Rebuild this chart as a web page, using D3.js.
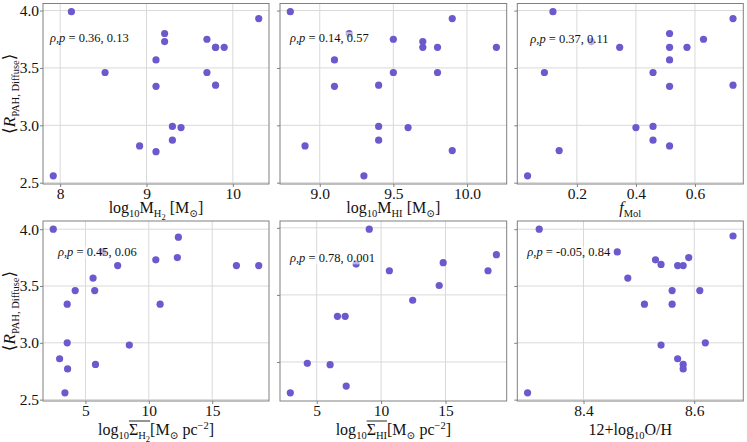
<!DOCTYPE html>
<html lang="en">
<head>
<meta charset="UTF-8">
<title>R_PAH vs gas properties</title>
<script src="https://cdn.jsdelivr.net/npm/d3@7"></script>
<style>
body { margin: 0; background: #fff; }
svg text { font-family: "Liberation Serif", "Times New Roman", Times, "DejaVu Serif", serif; fill: #111; }
</style>
</head>
<body>
<script type="text/javascript">

var w = 747;
var h = 442;
var serif = "'Liberation Serif', 'Times New Roman', Times, 'DejaVu Serif', serif";

// values, one x and one y array per panel
var mH2X = [7.92, 8.13, 8.52, 8.92, 9.11, 9.11, 9.11, 9.21, 9.21, 9.30, 9.40, 9.30, 9.70, 9.70, 9.80, 9.90, 9.80, 10.30, 9.80];
var mH2Y = [2.56, 3.99, 3.46, 2.82, 3.57, 3.34, 2.77, 3.80, 3.73, 2.99, 2.98, 2.87, 3.75, 3.46, 3.68, 3.68, 3.35, 3.93, 3.68];

var mHIX = [8.80, 8.90, 9.10, 9.10, 9.20, 9.30, 9.40, 9.40, 9.40, 9.50, 9.50, 9.60, 9.70, 9.70, 9.80, 9.80, 9.90, 9.90, 10.20];
var mHIY = [3.99, 2.82, 3.57, 3.34, 3.80, 2.56, 3.35, 2.99, 2.87, 3.75, 3.46, 2.98, 3.73, 3.68, 3.68, 3.46, 3.93, 2.78, 3.68];

var fMolX = [0.033, 0.090, 0.119, 0.140, 0.249, 0.345, 0.400, 0.458, 0.458, 0.458, 0.514, 0.514, 0.514, 0.514, 0.514, 0.573, 0.629, 0.729, 0.729];
var fMolY = [2.56, 3.46, 3.99, 2.78, 3.73, 3.68, 2.98, 3.46, 2.99, 2.87, 3.80, 3.68, 3.57, 3.34, 2.82, 3.68, 3.75, 3.93, 3.35];

var sH2X = [2.46, 2.96, 3.38, 3.56, 3.56, 3.59, 4.19, 5.60, 5.73, 5.79, 6.36, 7.54, 8.46, 10.55, 10.89, 12.25, 12.33, 16.91, 18.67];
var sH2Y = [4.00, 2.86, 2.56, 3.00, 3.34, 2.77, 3.46, 3.57, 3.46, 2.81, 3.80, 3.68, 2.98, 3.73, 3.34, 3.75, 3.93, 3.68, 3.68];

var sHIX = [2.95, 4.27, 6.04, 6.61, 7.21, 7.29, 8.06, 9.08, 10.64, 12.45, 14.51, 14.82, 18.30, 18.95];
var sHIY = [2.77, 2.99, 2.98, 3.34, 3.34, 2.82, 3.73, 3.99, 3.68, 3.46, 3.57, 3.74, 3.68, 3.80];

var ohX = [8.299, 8.320, 8.461, 8.480, 8.510, 8.530, 8.540, 8.540, 8.560, 8.560, 8.570, 8.570, 8.580, 8.580, 8.580, 8.590, 8.610, 8.620, 8.670];
var ohY = [2.56, 4.00, 3.80, 3.57, 3.34, 3.73, 3.69, 2.98, 3.46, 3.34, 3.68, 2.86, 3.68, 2.81, 2.77, 3.75, 3.46, 3.00, 3.94];

// spearman rho and p shown in each panel
var rhoVals = ["0.36", "0.14", "0.37", "0.45", "0.78", "-0.05"];
var pVals = ["0.13", "0.57", "0.11", "0.06", "0.001", "0.84"];

// tick values
var xTicks = [[8, 9, 10], [9.0, 9.5, 10.0], [0.2, 0.4, 0.6], [5, 10, 15], [5, 10, 15], [8.4, 8.6]];
var xTickFmt = [d3.format("d"), d3.format(".1f"), d3.format(".1f"), d3.format("d"), d3.format("d"), d3.format(".1f")];
var yTicks = [[2.5, 3.0, 3.5, 4.0], [2.5, 3.0, 3.5, 4.0], [2.5, 3.0, 3.5, 4.0],
              [2.5, 3.0, 3.5, 4.0], [3.0, 3.5, 4.0], [2.5, 3.0, 3.5, 4.0]];

// x labels as [text, level, style] pieces: level 0 normal, 1 sub, 2 sub of sub, -1 sup
// style "i" italic, "o" under the overline
var xLabels = [
    [["log", 0], ["10", 1], ["M", 0], ["H", 1], ["2", 2], [" [M", 0], ["\u2299", 1], ["]", 0]],
    [["log", 0], ["10", 1], ["M", 0], ["HI", 1], [" [M", 0], ["\u2299", 1], ["]", 0]],
    [["f", 0, "i"], ["Mol", 1]],
    [["log", 0], ["10", 1], ["\u03A3", 0, "o"], ["H", 1, "o"], ["2", 2, "o"], ["[M", 0], ["\u2299", 1], [" pc", 0], ["\u22122", -1], ["]", 0]],
    [["log", 0], ["10", 1], ["\u03A3", 0, "o"], ["HI", 1, "o"], ["[M", 0], ["\u2299", 1], [" pc", 0], ["\u22122", -1], ["]", 0]],
    [["12+log", 0], ["10", 1], ["O/H", 0]]
];

var panelX = [mH2X, mHIX, fMolX, sH2X, sHIX, ohX];
var panelY = [mH2Y, mHIY, fMolY, sH2Y, sHIY, ohY];

// layout
var cols = [{x0: 43, x1: 269}, {x0: 280, x1: 506.7}, {x0: 517.3, x1: 743.3}];
var rows = [{y0: 3.5, y1: 184}, {y0: 221, y1: 401}];
var notePos = [[7, 34], [10, 34], [13, 35], [15, 31], [10, 37], [10, 31]]; // left offset, centre from panel top

var dotColor = "#6a5acd";
var frameColor = "#808080";
var gridColor = "#d9d9d9";

var svg = d3.select("body")
    .append("svg")
    .attr("width", w)
    .attr("height", h);

function padDomain(arr) {
    var ext = d3.extent(arr);
    var m = (ext[1] - ext[0]) * 0.05;
    return [ext[0] - m, ext[1] + m];
}

var sizes = {0: 16, 1: 10.5, 2: 8.5, "-1": 10.5};
var shifts = {0: 0, 1: 4, 2: 6.5, "-1": -6};

// writes the pieces as tspans, returns [first, last] char index under the overline
function richText(sel, parts) {
    var cur = 0, pos = 0, over = null;
    parts.forEach(function(p) {
        var lvl = p[1];
        var t = sel.append("tspan")
            .attr("dy", shifts[lvl] - cur)
            .style("font-size", sizes[lvl] + "px")
            .text(p[0]);
        if (p[2] === "i") t.style("font-style", "italic");
        if (p[2] === "o") {
            if (!over) over = [pos, pos];
            over[1] = pos + p[0].length - 1;
        }
        cur = shifts[lvl];
        pos += p[0].length;
    });
    return over;
}

for (var k = 0; k < 6; k++) {
    var c = cols[k % 3];
    var r = rows[Math.floor(k / 3)];
    var xs = panelX[k], ys = panelY[k];

    var x = d3.scaleLinear().domain(padDomain(xs)).range([c.x0, c.x1]);
    var y = d3.scaleLinear().domain(padDomain(ys)).range([r.y1, r.y0]);

    var g = svg.append("g");

    // grid
    g.selectAll(".gx").data(xTicks[k]).enter().append("line")
        .attr("x1", function(d) { return x(d); })
        .attr("x2", function(d) { return x(d); })
        .attr("y1", r.y0).attr("y2", r.y1)
        .attr("stroke", gridColor).attr("stroke-width", 1);
    g.selectAll(".gy").data(yTicks[k]).enter().append("line")
        .attr("y1", function(d) { return y(d); })
        .attr("y2", function(d) { return y(d); })
        .attr("x1", c.x0).attr("x2", c.x1)
        .attr("stroke", gridColor).attr("stroke-width", 1);

    // axes with d3 axis generator, then restyled
    var xAxis = d3.axisBottom(x).tickValues(xTicks[k]).tickFormat(xTickFmt[k]).tickSize(3).tickPadding(1);
    var gx = g.append("g").attr("transform", "translate(0," + r.y1 + ")").call(xAxis)
        .attr("font-family", serif);
    gx.select(".domain").remove();
    gx.selectAll(".tick line").attr("stroke", frameColor);
    gx.selectAll(".tick text")
        .style("font-family", serif)
        .style("font-size", "15.5px")
        .attr("fill", "#111");

    var yAxis = d3.axisLeft(y).tickValues(yTicks[k]).tickSize(3).tickPadding(1)
        .tickFormat(k % 3 === 0 ? d3.format(".1f") : function() { return ""; });
    var gy = g.append("g").attr("transform", "translate(" + c.x0 + ",0)").call(yAxis)
        .attr("font-family", serif);
    gy.select(".domain").remove();
    gy.selectAll(".tick line").attr("stroke", frameColor);
    gy.selectAll(".tick text")
        .style("font-family", serif)
        .style("font-size", "15.5px")
        .attr("fill", "#111");

    // points
    g.selectAll("circle").data(xs).enter().append("circle")
        .attr("cx", function(d) { return x(d); })
        .attr("cy", function(d, i) { return y(ys[i]); })
        .attr("r", 3.6)
        .attr("fill", dotColor);

    // frame
    g.append("rect")
        .attr("x", c.x0).attr("y", r.y0)
        .attr("width", c.x1 - c.x0).attr("height", r.y1 - r.y0)
        .attr("fill", "none")
        .attr("stroke", frameColor)
        .attr("stroke-width", 1);

    // correlation note with half transparent white box
    var note = g.append("text")
        .attr("x", c.x0 + notePos[k][0])
        .attr("y", r.y0 + notePos[k][1])
        .attr("dy", "0.35em")
        .style("font-family", serif)
        .style("font-size", "12.5px");
    note.append("tspan").style("font-style", "italic").text("\u03C1,p");
    note.append("tspan").text(" = " + rhoVals[k] + ", " + pVals[k]);
    var bb = note.node().getBBox();
    g.insert("rect", function() { return note.node(); })
        .attr("x", bb.x - 1).attr("y", bb.y + 1)
        .attr("width", bb.width + 2).attr("height", bb.height - 2)
        .attr("fill", "#fff")
        .attr("fill-opacity", 0.55);

    // x label
    var xl = g.append("text")
        .attr("x", (c.x0 + c.x1) / 2)
        .attr("y", r.y1 + (k < 3 ? 29 : 34))
        .attr("text-anchor", "middle")
        .style("font-family", serif)
        .style("font-size", "16px");
    var over = richText(xl, xLabels[k]);
    if (over) {
        var n = xl.node();
        var p0 = n.getStartPositionOfChar(over[0]);
        var p1 = n.getEndPositionOfChar(over[1]);
        g.append("line")
            .attr("x1", p0.x).attr("x2", p1.x)
            .attr("y1", p0.y - 14).attr("y2", p0.y - 14)
            .attr("stroke", "#111").attr("stroke-width", 0.9);
    }

    // y label on first column
    if (k % 3 === 0) {
        var yl = g.append("text")
            .attr("transform", "translate(15," + ((r.y0 + r.y1) / 2) + ") rotate(-90)")
            .attr("text-anchor", "middle")
            .style("font-family", serif)
            .style("font-size", "17px");
        yl.append("tspan").text("\u27E8");
        yl.append("tspan").style("font-style", "italic").text("R");
        yl.append("tspan").attr("dy", 4).style("font-size", "10.5px").text("PAH, Diffuse");
        yl.append("tspan").attr("dy", -4).text("\u27E9");
    }
}

</script>
</body>
</html>
